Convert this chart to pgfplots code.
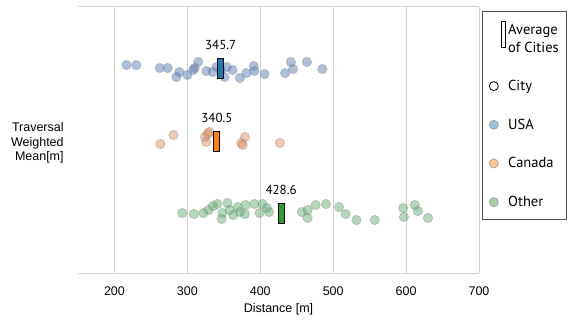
\documentclass[border=0pt]{standalone}
\usepackage{fontspec}
\setmainfont{Liberation Sans}
\newfontfamily\legfont{PT Sans}
\usepackage{pgfplots}
\pgfplotsset{compat=1.18}

\definecolor{usapt}{HTML}{4C72B0}
\definecolor{canpt}{HTML}{DD8452}
\definecolor{othpt}{HTML}{55A868}
\definecolor{usabar}{HTML}{1F77B4}
\definecolor{canbar}{HTML}{FF7F0E}
\definecolor{othbar}{HTML}{2CA02C}
\definecolor{usaleg}{HTML}{9AC1DD}
\definecolor{canleg}{HTML}{FFC592}
\definecolor{othleg}{HTML}{A0D4A0}
\definecolor{gridgray}{HTML}{D2D2D2}

% tall thin box for the weighted means
\pgfdeclareplotmark{meanbar}{%
  \pgfpathrectangle{\pgfpoint{-3bp}{-10bp}}{\pgfpoint{6bp}{20bp}}%
  \pgfusepathqfillstroke}

\pgfplotsset{
  city/.style={only marks, mark=*, mark size=4.7bp, forget plot,
    mark options={fill=#1, fill opacity=0.45, draw=gray, draw opacity=0.35, line width=0.8bp}},
  mean/.style={only marks, mark=meanbar, forget plot,
    mark options={fill=#1, draw=black, line width=0.8bp},
    point meta=x,
    nodes near coords={\pgfmathprintnumber[fixed,fixed zerofill,precision=1]{\pgfplotspointmeta}},
    every node near coord/.style={anchor=south, inner sep=0pt, yshift=18bp,
      font=\legfont\fontsize{13bp}{15bp}\selectfont, text=black}},
}

\begin{document}
\fontsize{12.5bp}{15bp}\selectfont
\begin{tikzpicture}
\begin{axis}[
  name=ax,
  scale only axis,
  width=401bp, height=266bp,
  xmin=150, xmax=700, ymin=7, ymax=273,
  xtick={200,300,...,700},
  ytick=\empty,
  separate axis lines,
  x axis line style={gridgray, line width=1bp},
  y axis line style={draw=none},
  xmajorgrids,
  grid style={gridgray, line width=1bp},
  major tick length=0pt,
  /pgf/number format/assume math mode=true,
  xticklabel style={font=\fontsize{12.5bp}{15bp}\selectfont, anchor=base, yshift=-22.5bp},
  xlabel={Distance [m]},
  xlabel style={at={(axis description cs:0.5,0)}, anchor=base, yshift=-39.5bp,
    font=\fontsize{12.5bp}{15bp}\selectfont},
  ylabel={Traversal\\Weighted\\Mean[m]},
  ylabel style={rotate=-90, align=right, anchor=east, at={(axis description cs:0,0.5)},
    xshift=-10bp, yshift=-3bp, font=\fontsize{12.5bp}{14.5bp}\selectfont},
  legend style={at={(1.0075,0.985)}, anchor=north west, draw=black!70, line width=0.8bp,
    font=\legfont\fontsize{14.5bp}{18bp}\selectfont,
    inner xsep=6bp, inner ysep=9bp, row sep=22.5bp},
  legend cell align=left,
]
\addlegendimage{legend image code/.code={
  \path (0bp,-21bp) (17bp,13bp);
  \draw[black, line width=0.8bp, fill=white] (12.5bp,-13bp) rectangle (17bp,13bp);}}
\addlegendentry{\begin{tabular}{@{}l@{}}Average\\of Cities\end{tabular}\hspace{14bp}}
\addlegendimage{legend image code/.code={
  \path (0bp,0bp) (17bp,0bp);
  \draw[black, line width=0.8bp, fill=white] (5bp,0bp) circle (4.5bp);}}
\addlegendentry{City}
\addlegendimage{legend image code/.code={
  \path (0bp,0bp) (17bp,0bp);
  \draw[gray!70, line width=0.8bp, fill=usaleg] (5bp,0bp) circle (4.5bp);}}
\addlegendentry{USA}
\addlegendimage{legend image code/.code={
  \path (0bp,0bp) (17bp,0bp);
  \draw[gray!70, line width=0.8bp, fill=canleg] (5bp,0bp) circle (4.5bp);}}
\addlegendentry{Canada}
\addlegendimage{legend image code/.code={
  \path (0bp,0bp) (17bp,0bp);
  \draw[gray!70, line width=0.8bp, fill=othleg] (5bp,0bp) circle (4.5bp);}}
\addlegendentry{Other}

% USA cities
\addplot[city=usapt] coordinates {
  (216.5,215) (230,215) (262,212) (273,212) (285,203) (289,208) (300,205)
  (308,210) (310,212) (315,218) (326,209) (335,208) (340,213) (346,210)
  (351,203) (354,213) (362,210) (372,202) (381,207) (391,214) (392,209)
  (406,206) (434,207) (442,218) (445,211) (464,218) (485,211)
};
% Canada cities
\addplot[city=canpt] coordinates {
  (263,136) (281,145) (324,143) (326,138) (330,148) (328,146)
  (374,137) (379,143) (376,135) (427,137)
};
% other cities
\addplot[city=othpt] coordinates {
  (293,67) (309,66) (322,67) (329,70) (335,74) (341,76) (347,61) (348,67)
  (355,77) (358,70) (363,65) (369,73) (372,68) (379,66) (380,75) (392,76)
  (399,67) (403,76) (409,72) (412,68) (457,68) (465,70) (465,62) (476,75)
  (490,76) (508,73) (517,66) (532,60) (557,60) (596,72) (597,63) (612,75)
  (616,69) (630,62)
};

\addplot[mean=usabar] coordinates {(345.7,212)};
\addplot[mean=canbar] coordinates {(340.5,139)};
\addplot[mean=othbar] coordinates {(428.6,66.5)};
\end{axis}
\pgfresetboundingbox
\path ([shift={(-78bp,-51bp)}]ax.south west) rectangle ([shift={(103bp,7bp)}]ax.north east);
\end{tikzpicture}
\end{document}
